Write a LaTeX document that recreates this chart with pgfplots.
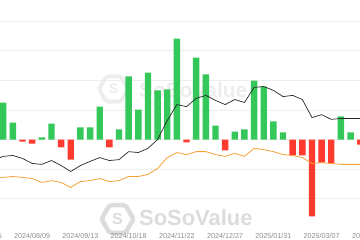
\documentclass[border=0pt]{standalone}
\usepackage{pgfplots}
\pgfplotsset{compat=1.18}
\usepackage{fontspec}
\setmainfont{Liberation Sans}
\usetikzlibrary{shapes.geometric}
\definecolor{upgreen}{HTML}{34C759}
\definecolor{downred}{HTML}{FF3B30}
\definecolor{lineorange}{HTML}{F7A035}
\definecolor{gridc}{HTML}{EEEEEE}
\definecolor{tickc}{HTML}{8C8C8C}
\definecolor{wmA}{HTML}{EDEDED}
\definecolor{wmB}{HTML}{DCDCDC}
\begin{document}
\begin{tikzpicture}[x=1bp,y=1bp]
\useasboundingbox (0,0) rectangle (360,240);
\clip (0,0) rectangle (360,240);
% watermarks (background)
\node[regular polygon, regular polygon sides=6, minimum size=29bp, draw=wmA, line width=4bp, rounded corners=2bp, inner sep=0pt] at (113.5,151) {};
\node[text=wmA, font=\bfseries\fontsize{14}{14}\selectfont] at (113.5,151) {S};
\node[text=wmA, font=\bfseries\fontsize{21}{21}\selectfont, anchor=west, inner sep=0pt] at (139,150) {SoSoValue};
\node[text=wmA, font=\fontsize{6}{6}\selectfont, anchor=west, inner sep=0pt] at (150,137) {sosovalue.com};
\node[regular polygon, regular polygon sides=6, minimum size=32bp, draw=wmB, line width=4.5bp, rounded corners=2bp, inner sep=0pt] at (117.5,21) {};
\node[text=wmB, font=\bfseries\fontsize{16}{16}\selectfont] at (117.5,21) {S};
\node[text=wmB, font=\bfseries\fontsize{22}{22}\selectfont, anchor=west, inner sep=0pt] at (139,22) {SoSoValue};
\begin{axis}[
  at={(-40bp,11.7bp)}, anchor=south west,
  scale only axis, width=440bp, height=207.2bp,
  xmin=-3.477, xmax=42.12, ymin=-300, ymax=400,
  axis line style={draw=none},
  major tick length=0pt,
  ytick={-200,-100,0,100,200,300,400},
  yticklabels={},
  ymajorgrids, grid style={gridc, line width=0.8bp},
  xtick={-1,4,9,14,19,24,29,34,39},
  xticklabels={2024/07/05,2024/08/09,2024/09/13,2024/10/18,2024/11/22,2024/12/27,2025/01/31,2025/03/07,2025/04/11},
  xticklabel style={text=tickc, font=\fontsize{7.2}{8}\selectfont, yshift=-1bp},
  ybar, bar width=6.4bp, bar shift=0pt,
]
\addplot[fill=upgreen, draw=none] coordinates {
(1,125) (2,57) (5,7) (6,54) (9,41) (10,41) (11,111) (13,34) (14,213) (15,101)
(16,226) (17,166) (18,169) (19,341) (21,277) (22,220) (23,47) (25,27) (26,34)
(27,199) (28,179) (29,61) (30,24) (36,78) (37,24)};
\addplot[fill=downred, draw=none] coordinates {
(3,-7) (4,-14) (7,-27) (8,-68) (12,-27) (20,-10) (24,-37) (31,-54) (32,-54)
(33,-260) (34,-78) (35,-81) (38,-17)};
\addplot[sharp plot, draw=lineorange, line width=0.8bp, mark=none] coordinates {
(0,-132) (1,-128) (2,-125) (3,-128) (4,-132) (5,-145) (6,-139) (7,-145) (8,-162)
(9,-142) (10,-139) (11,-132) (12,-142) (13,-139) (14,-125) (15,-125) (16,-118)
(17,-98) (18,-61) (19,-44) (20,-51) (21,-41) (22,-41) (23,-51) (24,-57) (25,-47)
(26,-57) (27,-30) (28,-34) (29,-41) (30,-51) (31,-54) (32,-61) (33,-81) (34,-78)
(35,-81) (36,-84) (37,-84) (38,-84) (39,-84)};
\addplot[sharp plot, draw=black!85, line width=0.7bp, mark=none] coordinates {
(0,-70) (1,-57) (2,-54) (3,-64) (4,-81) (5,-84) (6,-71) (7,-88) (8,-108)
(9,-88) (10,-74) (11,-61) (12,-71) (13,-68) (14,-41) (15,-44) (16,-30)
(17,0) (18,64) (19,118) (20,111) (21,139) (22,149) (23,132) (24,118) (25,135)
(26,125) (27,176) (28,179) (29,166) (30,145) (31,149) (32,135) (33,74) (34,84)
(35,68) (36,71) (37,71) (38,71) (39,71)};
\end{axis}
\end{tikzpicture}
\end{document}
